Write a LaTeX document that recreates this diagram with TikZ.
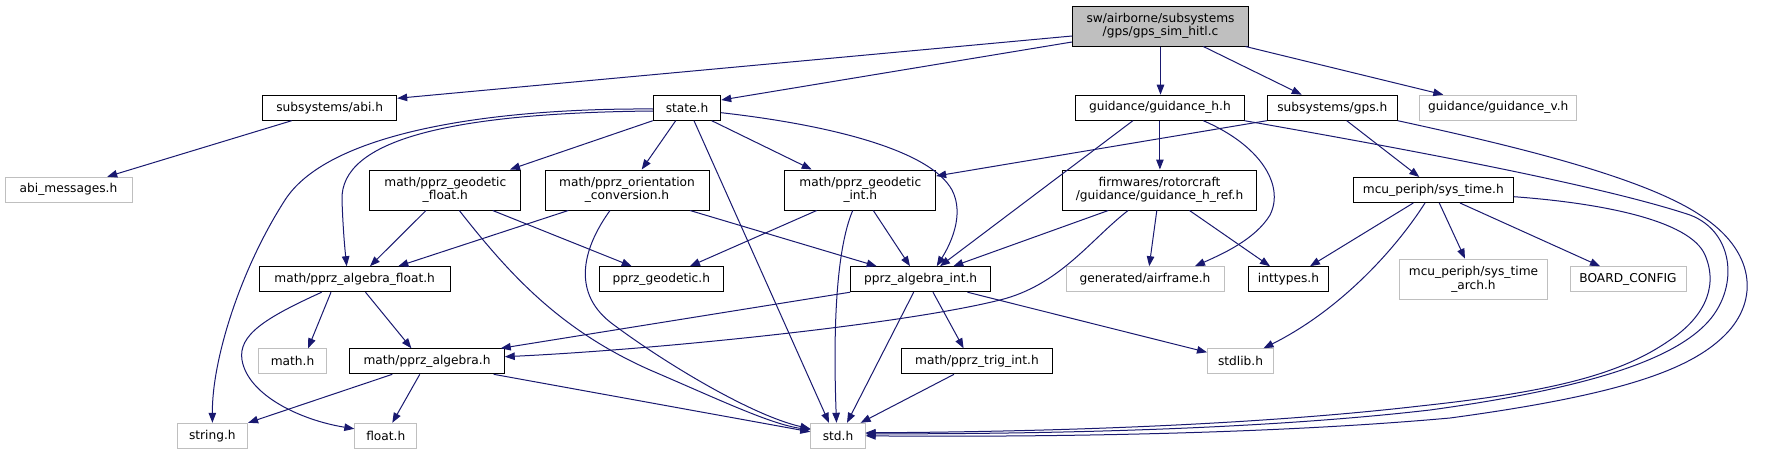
\documentclass[tikz,border=0pt]{standalone}
\usepackage{fontspec}
\setmainfont{DejaVu Sans}
\usetikzlibrary{arrows.meta}
\definecolor{edgec}{HTML}{191970}
\definecolor{gborder}{HTML}{BFBFBF}
\definecolor{rootfill}{HTML}{BFBFBF}
\tikzset{
  nb/.style={inner sep=0pt, align=center, font=\fontsize{12.2}{13.3}\selectfont, minimum height=25pt},
  bx/.style={nb, draw=black, line width=1pt, fill=white},
  gbx/.style={nb, draw=gborder, line width=1pt, fill=white},
  rootbx/.style={nb, draw=black, line width=1pt, fill=rootfill},
  tall/.style={minimum height=40pt},
  e/.style={-{Triangle[length=10pt,width=7.5pt]}, draw=edgec, line width=1pt}
}
\begin{document}
\begin{tikzpicture}[x=1pt,y=-1pt]
\fill[white] (0,0) rectangle (1788,455);
\useasboundingbox (0,0) rectangle (1788,455);
% nodes
\node[rootbx,tall,minimum width=176pt] (root) at (1160.5,26) {sw/airborne/subsystems\\/gps/gps\_sim\_hitl.c};
\node[bx,minimum width=134pt] (abi) at (329.7,107.7) {subsystems/abi.h};
\node[bx,minimum width=67.4pt] (state) at (687,107.7) {state.h};
\node[bx,minimum width=168.3pt] (guidh) at (1159.9,107.7) {guidance/guidance\_h.h};
\node[bx,minimum width=130pt] (gps) at (1332.3,107.7) {subsystems/gps.h};
\node[gbx,minimum width=156.7pt] (guidv) at (1498.3,107.7) {guidance/guidance\_v.h};
\node[gbx,minimum width=127pt] (abimsg) at (68.5,189.7) {abi\_messages.h};
\node[bx,tall,minimum width=150.7pt] (geofloat) at (445.3,190) {math/pprz\_geodetic\\\_float.h};
\node[bx,tall,minimum width=164pt] (orient) at (627,190) {math/pprz\_orientation\\\_conversion.h};
\node[bx,tall,minimum width=150.7pt] (geoint) at (860.3,190) {math/pprz\_geodetic\\\_int.h};
\node[bx,tall,minimum width=194.4pt] (href) at (1159.5,190) {firmwares/rotorcraft\\/guidance/guidance\_h\_ref.h};
\node[bx,minimum width=160pt] (systime) at (1433.3,190) {mcu\_periph/sys\_time.h};
\node[bx,minimum width=190.7pt] (algfloat) at (354.7,279.2) {math/pprz\_algebra\_float.h};
\node[bx,minimum width=124pt] (geodetic) at (661.3,279.2) {pprz\_geodetic.h};
\node[bx,minimum width=140pt] (algint) at (920.7,279.2) {pprz\_algebra\_int.h};
\node[gbx,minimum width=158pt] (airframe) at (1145,279.2) {generated/airframe.h};
\node[bx,minimum width=80.4pt] (inttypes) at (1288.5,279.2) {inttypes.h};
\node[gbx,tall,minimum width=148.3pt] (sysarch) at (1473.5,279.2) {mcu\_periph/sys\_time\\\_arch.h};
\node[gbx,minimum width=116pt] (board) at (1628,279.2) {BOARD\_CONFIG};
\node[gbx,minimum width=67.5pt] (mathh) at (292.5,361.3) {math.h};
\node[bx,minimum width=154.5pt] (alg) at (427,361.3) {math/pprz\_algebra.h};
\node[bx,minimum width=150.8pt] (trig) at (977,361.3) {math/pprz\_trig\_int.h};
\node[gbx,minimum width=66pt] (stdlib) at (1240.5,361.3) {stdlib.h};
\node[gbx,minimum width=70.4pt] (string) at (212.4,435.8) {string.h};
\node[gbx,minimum width=62pt] (float) at (385.8,435.8) {float.h};
\node[gbx,minimum width=54.3pt] (std) at (838,435.8) {std.h};
% edges from root
\draw[e] ([yshift=-10pt]root.west) -- ([yshift=9.4pt]abi.east);
\draw[e] ([yshift=-16pt]root.west) -- ([yshift=7.7pt]state.east);
\draw[e] (root.south) -- (root.south |- guidh.north);
\draw[e] ([xshift=42.8pt]root.south) -- ([xshift=-30.6pt]gps.north);
\draw[e] ([xshift=85pt]root.south) -- ([xshift=-55pt]guidv.north);
% abi
\draw[e] ([xshift=-38pt]abi.south) -- ([xshift=38.7pt]abimsg.north);
% state
\draw[e] (state.south west) -- ([xshift=64.7pt]geofloat.north);
\draw[e] ([xshift=-11.3pt]state.south) -- ([xshift=14.7pt]orient.north);
\draw[e] ([xshift=24.7pt]state.south) -- ([xshift=-48.6pt]geoint.north);
\draw[e] ([yshift=-5pt]state.east) .. controls (830,125) and (930,150) .. (952,190) .. controls (965,215) and (950,245) .. ([xshift=16pt]algint.north);
\draw[e] ([xshift=7pt]state.south) -- ([xshift=-9pt]std.north);
\draw[e] ([yshift=-1.3pt]state.west) .. controls (500,108) and (330,130) .. (285,200) .. controls (240,270) and (212,360) .. (string.north);
\draw[e] ([yshift=-3.3pt]state.west) .. controls (450,113) and (340,140) .. (342,200) .. controls (343,230) and (345,250) .. ([xshift=-8pt]algfloat.north);
% geofloat
\draw[e] ([xshift=-19.3pt]geofloat.south) -- ([xshift=15.3pt]algfloat.north);
\draw[e] ([xshift=14pt]geofloat.south) .. controls (510,275) and (560,330) .. (650,370) .. controls (720,400) and (770,424) .. ([yshift=6pt]std.west);
\draw[e] ([xshift=47.4pt]geofloat.south) -- ([xshift=-29.6pt]geodetic.north);
% orient
\draw[e] ([xshift=-58.7pt]orient.south) -- ([xshift=43.6pt]algfloat.north);
\draw[e] ([xshift=-17pt]orient.south) .. controls (585,245) and (570,290) .. (610,322) .. controls (660,360) and (750,415) .. ([yshift=7pt]std.west);
\draw[e] ([xshift=63pt]orient.south) -- ([xshift=-44pt]algint.north);
% geoint
\draw[e] ([xshift=-43.6pt]geoint.south) -- ([xshift=28.7pt]geodetic.north);
\draw[e] ([xshift=13pt]geoint.south) -- ([xshift=-10.7pt]algint.north);
\draw[e] ([xshift=-7.6pt]geoint.south) .. controls (836,250) and (833,330) .. ([xshift=-1.5pt]std.north);
% guidh
\draw[e] (guidh.south) -- (guidh.south |- href.north);
\draw[e] ([xshift=-27pt]guidh.south) -- ([xshift=19.3pt]algint.north);
\draw[e] ([xshift=43.4pt]guidh.south) .. controls (1260,145) and (1285,185) .. (1270,215) .. controls (1255,240) and (1220,255) .. ([xshift=50pt]airframe.north);
\draw[e] (guidh.south east) .. controls (1400,148) and (1600,185) .. (1690,215) .. controls (1735,232) and (1740,290) .. (1705,325) .. controls (1670,360) and (1590,388) .. (1430,410) .. controls (1240,432) and (1000,434) .. ([yshift=2pt]std.east);
% gps
\draw[e] (gps.south west) -- ([yshift=14pt]geoint.east);
\draw[e] ([xshift=14.4pt]gps.south) -- ([xshift=-14pt]systime.north);
\draw[e] (gps.south east) .. controls (1500,143) and (1640,175) .. (1700,215) .. controls (1755,250) and (1760,300) .. (1725,335) .. controls (1690,370) and (1620,395) .. (1450,418) .. controls (1250,436) and (1000,437) .. (std.east);
% href
\draw[e] ([xshift=-51.2pt]href.south) -- ([xshift=32.6pt]algint.north);
\draw[e] ([xshift=-2.7pt]href.south) -- ([xshift=4.2pt]airframe.north);
\draw[e] ([xshift=30pt]href.south) -- ([xshift=-18.5pt]inttypes.north);
\draw[e] ([xshift=-31.4pt]href.south) .. controls (1090,240) and (1060,285) .. (1000,300) .. controls (900,325) and (650,350) .. ([yshift=4.6pt]alg.east);
% systime
\draw[e] ([xshift=-20pt]systime.south) -- ([xshift=21.5pt]inttypes.north);
\draw[e] ([xshift=6pt]systime.south) -- ([xshift=-8.5pt]sysarch.north);
\draw[e] ([xshift=26.7pt]systime.south) -- ([xshift=-28pt]board.north);
\draw[e] ([xshift=-8.3pt]systime.south) .. controls (1395,250) and (1340,310) .. ([xshift=23pt]stdlib.north);
\draw[e] ([yshift=-6.7pt]systime.east) .. controls (1600,203) and (1690,220) .. (1705,255) .. controls (1720,290) and (1700,320) .. (1670,340) .. controls (1620,375) and (1550,392) .. (1420,406) .. controls (1230,428) and (1000,432) .. ([yshift=3pt]std.east);
% algfloat
\draw[e] ([xshift=-23.7pt]algfloat.south) -- ([xshift=15.6pt]mathh.north);
\draw[e] ([xshift=10.8pt]algfloat.south) -- ([xshift=-15.6pt]alg.north);
\draw[e] ([xshift=-33pt]algfloat.south) .. controls (265,318) and (238,335) .. (242,360) .. controls (248,395) and (300,420) .. ([yshift=7pt]float.west);
% algint
\draw[e] (algint.south west) -- ([xshift=-4pt]alg.north east);
\draw[e] ([xshift=-7pt]algint.south) -- ([xshift=9pt]std.north);
\draw[e] ([xshift=12.3pt]algint.south) -- ([xshift=-13.4pt]trig.north);
\draw[e] ([xshift=46.7pt]algint.south) -- ([yshift=9pt]stdlib.west);
% alg
\draw[e] ([xshift=-34.7pt]alg.south) -- (string.north east);
\draw[e] ([xshift=-7.2pt]alg.south) -- ([xshift=6.5pt]float.north);
\draw[e] ([xshift=66.7pt]alg.south) -- ([yshift=4pt]std.west);
% trig
\draw[e] ([xshift=-23pt]trig.south) -- ([xshift=-5pt]std.north east);
\end{tikzpicture}
\end{document}
